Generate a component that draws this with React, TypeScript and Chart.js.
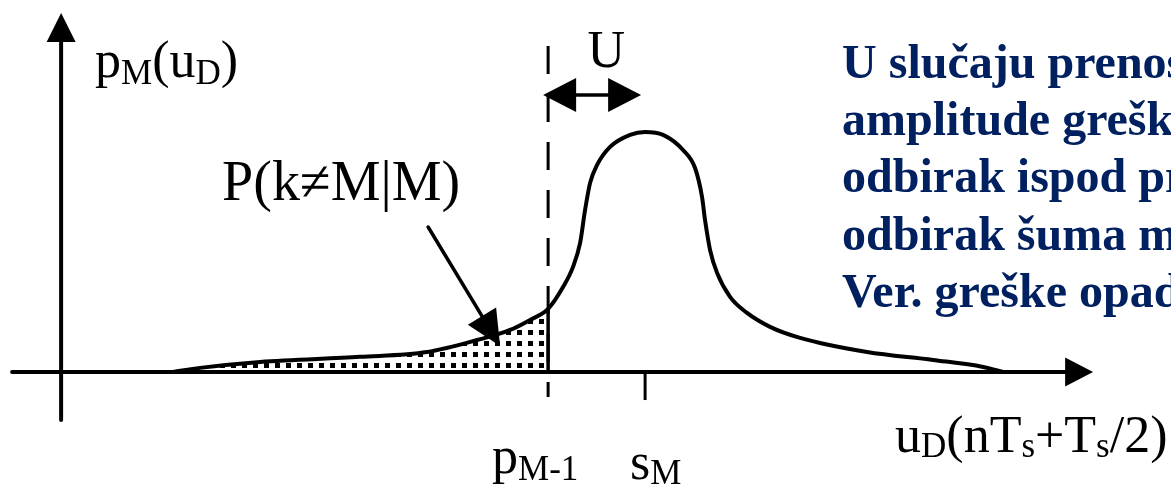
import React, { useEffect, useRef } from "react";
import { Chart, registerables } from "chart.js";

Chart.register(...registerables);

const curveX = [1.155, 1.433, 2.052, 3.082, 3.773, 4.289, 4.629, 4.835, 5.021, 5.175, 5.278, 5.351, 5.402, 5.454, 5.526, 5.66, 5.866, 6.021, 6.206, 6.412, 6.536, 6.608, 6.639, 6.691, 6.763, 6.897, 7.072, 7.309, 7.619, 8.309, 8.99, 9.505, 9.711];
const curveY = [0, 0.017, 0.042, 0.063, 0.083, 0.133, 0.175, 0.217, 0.263, 0.354, 0.438, 0.538, 0.675, 0.788, 0.863, 0.938, 0.988, 1.0, 0.988, 0.925, 0.85, 0.729, 0.633, 0.508, 0.413, 0.313, 0.246, 0.188, 0.142, 0.083, 0.05, 0.021, 0];

// Key abscissae
const P_M1 = 5.021; // threshold p_{M-1}
const S_M = 6.021; // signal level s_M

// Axis extents
const X_RANGE = [-0.63, 11.443];
const Y_RANGE = [-0.471, 1.55];
const X_AXIS_SPAN = [-0.505, 10.64];
const Y_AXIS_SPAN = [-0.2, 1.496];
const DASH_SPAN = [-0.104, 1.358];
const TICK_LOW = -0.117;

// Text lines
const blueLines = ["U slučaju prenos", "amplitude grešk", "odbirak ispod pr", "odbirak šuma m", "Ver. greške opad"];
const blueBaselines = [1.225, 0.9875, 0.75, 0.508, 0.271];

const SERIF = "'Liberation Serif', 'Times New Roman', serif";

type Part = [string, boolean];

function drawRich(ctx: CanvasRenderingContext2D, x: number, y: number, parts: Part[], size: number, subSize: number, drop: number) {
  let cx = x;
  for (const [t, sub] of parts) {
    ctx.font = `${sub ? subSize : size}px ${SERIF}`;
    ctx.fillText(t, cx, sub ? y + drop : y);
    cx += ctx.measureText(t).width;
  }
}

function arrowHead(ctx: CanvasRenderingContext2D, tx: number, ty: number, dx: number, dy: number, len: number, half: number) {
  const l = Math.hypot(dx, dy);
  const ux = dx / l, uy = dy / l;
  const bx = tx - ux * len, by = ty - uy * len;
  ctx.beginPath();
  ctx.moveTo(tx, ty);
  ctx.lineTo(bx - uy * half, by + ux * half);
  ctx.lineTo(bx + uy * half, by - ux * half);
  ctx.closePath();
  ctx.fill();
}

const diagramPlugin = {
  id: "diagram",
  afterDatasetsDraw(chart: any) {
    const { ctx, scales } = chart;
    const px = (v: number) => scales.x.getPixelForValue(v);
    const py = (v: number) => scales.y.getPixelForValue(v);
    ctx.save();
    ctx.strokeStyle = "#000";
    ctx.fillStyle = "#000";
    ctx.lineCap = "round";

    // x axis
    ctx.lineWidth = 4;
    ctx.beginPath();
    ctx.moveTo(px(X_AXIS_SPAN[0]), py(0));
    ctx.lineTo(px(X_AXIS_SPAN[1]) - 20, py(0));
    ctx.stroke();
    arrowHead(ctx, px(X_AXIS_SPAN[1]), py(0), 1, 0, 28, 14.5);

    // y axis
    ctx.beginPath();
    ctx.moveTo(px(0), py(Y_AXIS_SPAN[0]));
    ctx.lineTo(px(0), py(Y_AXIS_SPAN[1]) + 20);
    ctx.stroke();
    arrowHead(ctx, px(0), py(Y_AXIS_SPAN[1]), 0, -1, 29, 14.5);

    // dashed threshold
    ctx.lineCap = "butt";
    ctx.lineWidth = 3;
    ctx.setLineDash([28, 20]);
    ctx.beginPath();
    ctx.moveTo(px(P_M1), py(DASH_SPAN[1]));
    ctx.lineTo(px(P_M1), py(DASH_SPAN[0]));
    ctx.stroke();
    ctx.setLineDash([]);

    // solid edge of shaded area
    const idx = curveX.indexOf(P_M1);
    ctx.lineWidth = 3.5;
    ctx.beginPath();
    ctx.moveTo(px(P_M1), py(0));
    ctx.lineTo(px(P_M1), py(curveY[idx]));
    ctx.stroke();

    // s_M tick
    ctx.lineWidth = 3;
    ctx.beginPath();
    ctx.moveTo(px(S_M), py(0));
    ctx.lineTo(px(S_M), py(TICK_LOW));
    ctx.stroke();

    // U double arrow
    const uy = py(1.154);
    const ul = px(P_M1) - 5, ur = px(S_M) - 4;
    ctx.lineWidth = 3.5;
    ctx.beginPath();
    ctx.moveTo(ul + 20, uy);
    ctx.lineTo(ur - 20, uy);
    ctx.stroke();
    arrowHead(ctx, ul, uy, -1, 0, 33, 17);
    arrowHead(ctx, ur, uy, 1, 0, 33, 17);

    // pointer arrow to shaded area
    const ax0 = px(3.784), ay0 = py(0.604);
    const ax1 = px(4.526), ay1 = py(0.108);
    ctx.lineWidth = 3.5;
    ctx.lineCap = "round";
    ctx.beginPath();
    ctx.moveTo(ax0, ay0);
    const dl = Math.hypot(ax1 - ax0, ay1 - ay0);
    ctx.lineTo(ax1 - ((ax1 - ax0) / dl) * 25, ay1 - ((ay1 - ay0) / dl) * 25);
    ctx.stroke();
    arrowHead(ctx, ax1, ay1, ax1 - ax0, ay1 - ay0, 35, 16.5);

    // labels
    ctx.textBaseline = "alphabetic";
    ctx.textAlign = "left";
    drawRich(ctx, px(0.35), py(1.229), [["p", false], ["M", true], ["(u", false], ["D", true], [")", false]], 52, 35, 7);
    ctx.font = `52px ${SERIF}`;
    ctx.textAlign = "center";
    ctx.fillText("U", px(5.62), py(1.271));
    ctx.textAlign = "left";
    drawRich(ctx, px(1.66), py(0.717), [["P(k≠M|M)", false]], 56, 35, 7);
    drawRich(ctx, px(4.443), py(-0.421), [["p", false], ["M-1", true]], 52, 35, 7);
    drawRich(ctx, px(5.866), py(-0.446), [["s", false], ["M", true]], 52, 35, 5);
    drawRich(ctx, px(8.598), py(-0.333), [["u", false], ["D", true], ["(nT", false], ["s", true], ["+T", false], ["s", true], ["/2)", false]], 52, 35, 5);

    ctx.fillStyle = "#002060";
    ctx.font = `bold 48px ${SERIF}`;
    blueLines.forEach((t, i) => ctx.fillText(t, px(8.052), py(blueBaselines[i])));
    ctx.restore();
  },
};

export default function App() {
  const ref = useRef<HTMLCanvasElement>(null);
  useEffect(() => {
    document.body.style.margin = "0";
    const canvas = ref.current!;
    const pc = document.createElement("canvas");
    pc.width = 11;
    pc.height = 11;
    const pctx = pc.getContext("2d")!;
    pctx.fillStyle = "#fff";
    pctx.fillRect(0, 0, 11, 11);
    pctx.fillStyle = "#000";
    pctx.fillRect(0, 0, 5, 5);
    const pattern = canvas.getContext("2d")!.createPattern(pc, "repeat")!;

    const curve = curveX.map((x, i) => ({ x, y: curveY[i] }));
    const shaded = curve.filter((p) => p.x <= P_M1);

    const chart = new Chart(canvas, {
      type: "line",
      data: {
        datasets: [
          {
            data: curve,
            borderColor: "#000",
            borderWidth: 4,
            pointRadius: 0,
            cubicInterpolationMode: "monotone",
            fill: false,
            order: 0,
          },
          {
            data: shaded,
            borderColor: "rgba(0,0,0,0)",
            borderWidth: 0,
            backgroundColor: pattern as any,
            pointRadius: 0,
            cubicInterpolationMode: "monotone",
            fill: "origin",
            order: 1,
          },
        ],
      },
      options: {
        animation: false,
        responsive: false,
        devicePixelRatio: 1,
        layout: { padding: 0 },
        plugins: { legend: { display: false }, tooltip: { enabled: false }, title: { display: false } },
        events: [],
        scales: {
          x: { type: "linear", min: X_RANGE[0], max: X_RANGE[1], display: false },
          y: { type: "linear", min: Y_RANGE[0], max: Y_RANGE[1], display: false },
        },
      },
      plugins: [diagramPlugin],
    });
    return () => chart.destroy();
  }, []);
  return (
    <div style={{ position: "fixed", left: 0, top: 0, width: 1171, height: 485, background: "#fff" }}>
      <canvas ref={ref} width={1171} height={485} />
    </div>
  );
}
